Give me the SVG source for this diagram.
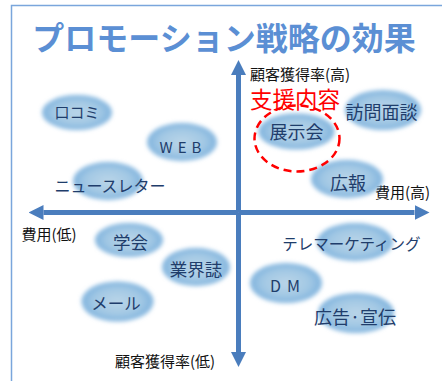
<svg xmlns="http://www.w3.org/2000/svg" width="442" height="381" viewBox="0 0 442 381">
<style>
  text { font-family: "Noto Sans CJK JP", "Noto Sans", sans-serif; dominant-baseline: central; }
  .lbl { fill: #1f3d6b; text-anchor: middle; }
  .ax { fill: #111; font-size: 15px; }
  .blob { fill: url(#bg); filter: url(#soft); }
  .axis { stroke: #4a7dbd; stroke-width: 5; fill: none; marker-end: url(#ah); }
</style>
<defs>
  <radialGradient id="bg" cx="0.5" cy="0.5" r="0.5">
    <stop offset="0" stop-color="#bad5e8"/>
    <stop offset="0.65" stop-color="#a2c8e4"/>
    <stop offset="1" stop-color="#7fb3de"/>
  </radialGradient>
  <filter id="soft" x="-20%" y="-30%" width="140%" height="160%">
    <feGaussianBlur stdDeviation="2"/>
  </filter>
  <marker id="ah" viewBox="0 0 15 16" refX="0" refY="8" markerWidth="15" markerHeight="16" markerUnits="userSpaceOnUse" orient="auto">
    <path d="M0,0.5 L15,8 L0,15.5 z" fill="#4a7dbd"/>
  </marker>
</defs>
<rect x="11.5" y="5.5" width="440" height="400" fill="#fff" stroke="#7aa6dc" stroke-width="1.5"/>
<text x="224" y="36" font-size="32" font-weight="bold" fill="#5b8fd4" text-anchor="middle">プロモーション戦略の効果</text>

<g id="connectors">
  <line class="axis" x1="238.5" y1="212.5" x2="238.5" y2="75"/>
  <line class="axis" x1="238.5" y1="212.5" x2="238.5" y2="352"/>
  <line class="axis" x1="238.5" y1="212.5" x2="43.5" y2="212.5"/>
  <line class="axis" x1="238.5" y1="212.5" x2="414.5" y2="212.5"/>
</g>

<g id="axis-labels">
  <text class="ax" x="250" y="73">顧客獲得率(高)</text>
  <text class="ax" x="115" y="360.5">顧客獲得率(低)</text>
  <text class="ax" x="375" y="191.5">費用(高)</text>
  <text class="ax" x="21.5" y="233">費用(低)</text>
</g>

<g id="kuchikomi"><ellipse class="blob" cx="77" cy="112.5" rx="35" ry="17.5"/><text class="lbl" x="77" y="111.5" font-size="15">口コミ</text></g>
<g id="web"><ellipse class="blob" cx="182" cy="142" rx="35" ry="19"/><text class="lbl" x="183" y="146" font-size="15" letter-spacing="5">WEB</text></g>
<g id="newsletter"><ellipse class="blob" cx="108" cy="181" rx="35" ry="19"/><text class="lbl" x="110" y="185" font-size="16">ニュースレター</text></g>
<g id="tenjikai"><ellipse class="blob" cx="296.5" cy="131.5" rx="38" ry="18"/><text class="lbl" x="296.5" y="131" font-size="18">展示会</text></g>
<g id="houmon"><ellipse class="blob" cx="383" cy="110" rx="38" ry="20"/><text class="lbl" x="381.5" y="111" font-size="18">訪問面談</text></g>
<g id="kouhou"><ellipse class="blob" cx="347" cy="179" rx="36" ry="19"/><text class="lbl" x="348" y="181.5" font-size="18">広報</text></g>
<g id="gakkai"><ellipse class="blob" cx="129" cy="240" rx="34" ry="17"/><text class="lbl" x="130.5" y="241.5" font-size="17.5">学会</text></g>
<g id="telemarketing"><ellipse class="blob" cx="355" cy="242" rx="38" ry="19"/><text class="lbl" x="351.5" y="243" font-size="15.5">テレマーケティング</text></g>
<g id="gyoukaishi"><ellipse class="blob" cx="196" cy="267" rx="34" ry="19"/><text class="lbl" x="196" y="268" font-size="17.5">業界誌</text></g>
<g id="dm"><ellipse class="blob" cx="286" cy="283" rx="36" ry="20"/><text class="lbl" x="288" y="285" font-size="16" letter-spacing="6">DM</text></g>
<g id="mail"><ellipse class="blob" cx="117.5" cy="301.5" rx="36" ry="20"/><text class="lbl" x="116" y="302.5" font-size="16.5">メール</text></g>
<g id="koukoku"><ellipse class="blob" cx="356" cy="313" rx="38" ry="20"/><text class="lbl" x="355" y="316" font-size="18">広告·宣伝</text></g>

<g id="shien">
  <ellipse cx="297" cy="138.5" rx="42.5" ry="33" fill="none" stroke="#ff0000" stroke-width="2.5" stroke-dasharray="8 5"/>
  <text x="295" y="98" font-size="22.5" fill="#ff0000" text-anchor="middle">支援内容</text>
</g>
</svg>
